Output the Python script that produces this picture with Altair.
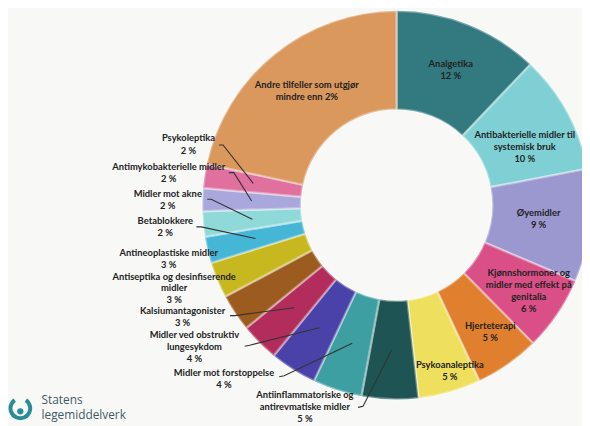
import math
import altair as alt
import pandas as pd

# ---------------- data ----------------
names = [
    "Analgetika",
    "Antibakterielle midler til systemisk bruk",
    "Øyemidler",
    "Kjønnshormoner og midler med effekt på genitalia",
    "Hjerteterapi",
    "Psykoanaleptika",
    "Antiinflammatoriske og antirevmatiske midler",
    "Midler mot forstoppelse",
    "Midler ved obstruktiv lungesykdom",
    "Kalsiumantagonister",
    "Antiseptika og desinfiserende midler",
    "Antineoplastiske midler",
    "Betablokkere",
    "Midler mot akne",
    "Antimykobakterielle midler",
    "Psykoleptika",
    "Andre tilfeller som utgjør mindre enn 2%",
]
shares = [12.1, 9.9, 9.4, 6.2, 5.4, 5.2, 4.7, 4.1, 3.9, 3.2, 3.1, 3.0, 2.2, 2.1, 1.9, 2.0, 21.6]
show_pct = [True] * 16 + [False]

# label text with manual line breaks
label_text = [
    "Analgetika",
    "Antibakterielle midler til\nsystemisk bruk",
    "Øyemidler",
    "Kjønnshormoner og\nmidler med effekt på\ngenitalia",
    "Hjerteterapi",
    "Psykoanaleptika",
    "Antiinflammatoriske og\nantirevmatiske midler",
    "Midler mot forstoppelse",
    "Midler ved obstruktiv\nlungesykdom",
    "Kalsiumantagonister",
    "Antiseptika og desinfiserende\nmidler",
    "Antineoplastiske midler",
    "Betablokkere",
    "Midler mot akne",
    "Antimykobakterielle midler",
    "Psykoleptika",
    "Andre tilfeller som utgjør\nmindre enn 2%",
]

# ---------------- styles / layout ----------------
colors = [
    "#327a80", "#7fd0d4", "#9b98cf", "#d94f86", "#e07f2e", "#eee05c",
    "#1f5454", "#3d9fa1", "#4a42a8", "#b22c5c", "#9c5b1f", "#c8b820",
    "#46b6d6", "#8fd9d9", "#aaa7dc", "#e0719f", "#db985d",
]

W, H = 582, 418
CX, CY = 394, 197
R_IN, R_OUT = 97, 197
R_ANCHOR = 147
LINE_H = 12.3

# label block centres (annotation layout, pixel space)
label_pos = [
    (449, 60), (524, 138), (538, 211.5), (528, 284), (489, 325.5), (448, 365),
    (301, 402), (219, 373), (189, 340.5), (177, 310), (168.5, 281.5), (163, 252),
    (159.5, 219.5), (162, 191.5), (163, 164.5), (183, 135.5), (303, 81.5),
]
# leader-line starting points next to labels (annotation layout)
leader_start = {
    6: [(355, 402), (360, 401)],
    7: [(275, 371), (280, 370)],
    8: [(240, 340), (245, 339)],
    9: [(225, 309), (230, 309)],
    12: [(191, 219), (196, 219)],
    13: [(202, 191), (206, 191)],
    14: [(224, 164), (229, 164)],
    15: [(214, 136), (218, 136)],
}

# ---------------- tables ----------------
df = pd.DataFrame({"name": names, "value": shares, "idx": list(range(len(names)))})

total = sum(shares)
cum = 0.0
mid_angles = []
for v in shares:
    mid_angles.append((cum + v / 2) / total * 2 * math.pi)
    cum += v

text_rows = []
for i, (txt, (lx, ly)) in enumerate(zip(label_text, label_pos)):
    lines = txt.split("\n")
    if show_pct[i]:
        lines.append(f"{round(shares[i])} %")
    n = len(lines)
    lh = LINE_H if n < 3 or i != 10 else 11.6
    for j, ln in enumerate(lines):
        text_rows.append({"text": ln, "x": lx, "y": ly + (j - (n - 1) / 2) * lh})
df_text = pd.DataFrame(text_rows)

line_rows = []
for i, pts in leader_start.items():
    a = mid_angles[i]
    ax = CX + R_ANCHOR * math.sin(a)
    ay = CY - R_ANCHOR * math.cos(a)
    for k, (px, py) in enumerate(pts + [(ax, ay)]):
        line_rows.append({"name": names[i], "k": k, "x": px, "y": py})
df_lines = pd.DataFrame(line_rows)

# ---------------- chart ----------------
arcs = alt.Chart(df).mark_arc(
    innerRadius=R_IN, outerRadius=R_OUT, stroke="white", strokeOpacity=0.35, strokeWidth=2.5
).encode(
    theta=alt.Theta("value:Q", stack=True),
    color=alt.Color("name:N", scale=alt.Scale(domain=names, range=colors), legend=None),
    order=alt.Order("idx:Q"),
    x=alt.value(CX),
    y=alt.value(CY),
)

leaders = alt.Chart(df_lines).mark_line(color="#333333", strokeWidth=1.1).encode(
    x=alt.X("x:Q", scale=None, axis=None),
    y=alt.Y("y:Q", scale=None, axis=None),
    detail="name:N",
    order="k:Q",
)

labels = alt.Chart(df_text).mark_text(
    font="Lato", fontWeight="bold", fontSize=9.5, color="#222222", align="center", baseline="middle"
).encode(
    x=alt.X("x:Q", scale=None, axis=None),
    y=alt.Y("y:Q", scale=None, axis=None),
    text="text:N",
)

one = pd.DataFrame({"a": [0]})
logo_ring = alt.Chart(one).mark_arc(innerRadius=8, outerRadius=12, color="#2b8c97").encode(
    theta=alt.value(0.6), theta2=alt.value(2 * math.pi - 0.6), x=alt.value(12.5), y=alt.value(403)
)
logo_dot = alt.Chart(one).mark_circle(size=40, color="#2b8c97", opacity=1).encode(
    x=alt.value(12.5), y=alt.value(406)
)
logo_df = pd.DataFrame({"t": ["Statens", "legemiddelverk"], "x": [34, 34], "y": [395, 410]})
logo_text = alt.Chart(logo_df).mark_text(
    font="Open Sans", fontSize=12, color="#3f5966", align="left", baseline="middle"
).encode(
    x=alt.X("x:Q", scale=None, axis=None),
    y=alt.Y("y:Q", scale=None, axis=None),
    text="t:N",
)

chart = alt.layer(arcs, leaders, labels, logo_ring, logo_dot, logo_text).properties(
    width=W, height=H, padding=0, autosize="none", background="#f8f9f7"
).configure_view(stroke=None)

chart.save("out.html", embed_options={"renderer": "svg", "actions": False})
